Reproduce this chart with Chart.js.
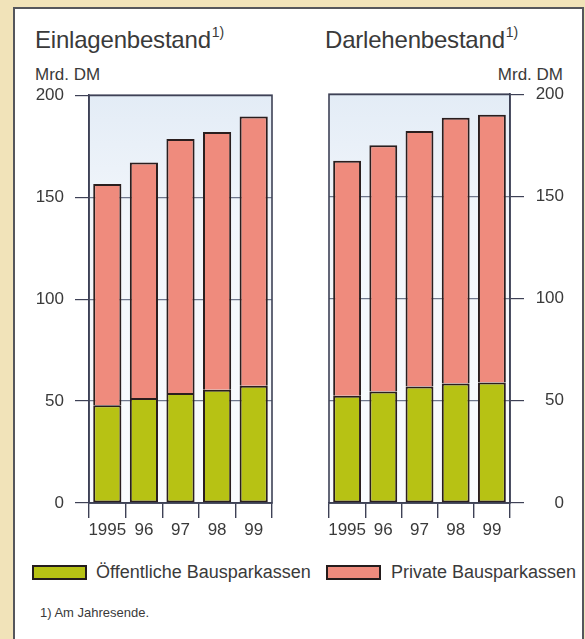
<!DOCTYPE html>
<html lang="de">
<head>
<meta charset="utf-8">
<title>Einlagen- und Darlehenbestand der Bausparkassen</title>
<script src="https://cdn.jsdelivr.net/npm/chart.js@4.4.1/dist/chart.umd.min.js"></script>
<style>
  html, body { margin: 0; padding: 0; }
  body { width: 585px; height: 639px; background: #f1e3b9; position: relative; overflow: hidden;
         font-family: "Liberation Sans", Arial, sans-serif; color: #3a3a3a; }
  #panel { position: absolute; left: 13px; top: 7px; width: 567px; height: 640px;
           background: #ffffff; border: 2px solid #55565c; border-bottom: none; }
  .abs { position: absolute; white-space: nowrap; line-height: 1; }
  .title { font-size: 24px; letter-spacing: -0.2px; }
  .title sup { font-size: 14px; position: relative; top: -3px; vertical-align: top; margin-left: 1px; }
  .unit { font-size: 17px; }
  canvas { position: absolute; }
  .legbox { position: absolute; width: 51px; height: 11px; border: 2px solid #241c1c; }
  .legtext { font-size: 18px; }
  .note { font-size: 13px; }
</style>
</head>
<body>
<div id="panel"></div>

<div class="abs title" style="left:35px; top:28px;">Einlagenbestand<sup>1)</sup></div>
<div class="abs title" style="left:325px; top:28px;">Darlehenbestand<sup>1)</sup></div>
<div class="abs unit" style="left:35px; top:66px;">Mrd. DM</div>
<div class="abs unit" style="right:22px; top:66px;">Mrd. DM</div>

<canvas id="einlagen" width="270" height="471" style="left:20px; top:74px;"></canvas>
<canvas id="darlehen" width="270" height="471" style="left:310px; top:74px;"></canvas>

<div class="legbox" style="left:32px; top:565px; background:#b7c214;"></div>
<div class="abs legtext" style="left:96px; top:563px;">Öffentliche Bausparkassen</div>
<div class="legbox" style="left:326px; top:565px; background:#ef8b7d;"></div>
<div class="abs legtext" style="left:391px; top:563px;">Private Bausparkassen</div>

<div class="abs note" style="left:40px; top:606px;">1) Am Jahresende.</div>

<script>
// Jahre (Jahresende) und Bestände in Mrd. DM
const years = ['1995', '96', '97', '98', '99'];
const yTicks = [0, 50, 100, 150, 200];

// Einlagenbestand
const einlagenOeffentlich = [48, 51.5, 54, 55.5, 57.5];
const einlagenPrivat = [108.5, 115.5, 124.5, 126.5, 132];

// Darlehenbestand
const darlehenOeffentlich = [52.5, 54.5, 57, 58.5, 59];
const darlehenPrivat = [115, 120.5, 125, 130, 131];

const GREEN = '#b7c214';
const PINK = '#ef8b7d';
const EDGE = '#2a1e1e';
const FRAME = '#3e4156';
const GRID = '#6f778c';
const TEXT = '#3a3a3a';

// light blue plot background and dark frame around the plot area
const plotFrame = {
  id: 'plotFrame',
  beforeDraw(chart) {
    const a = chart.chartArea, ctx = chart.ctx;
    const g = ctx.createLinearGradient(0, a.top, 0, a.bottom);
    g.addColorStop(0, '#e3ecf6');
    g.addColorStop(0.3, '#f2f6fb');
    g.addColorStop(1, '#fafcfe');
    ctx.save();
    ctx.fillStyle = g;
    ctx.fillRect(a.left, a.top, a.right - a.left, a.bottom - a.top);
    ctx.restore();
  },
  afterDraw(chart) {
    const a = chart.chartArea, ctx = chart.ctx;
    ctx.save();
    ctx.strokeStyle = FRAME;
    ctx.lineWidth = 1.6;
    ctx.strokeRect(a.left, a.top, a.right - a.left, a.bottom - a.top);
    ctx.restore();
  }
};

function makeChart(id, oeff, priv, side, padding, yWidth, labelPad) {
  return new Chart(document.getElementById(id), {
    type: 'bar',
    data: {
      labels: years,
      datasets: [
        { label: 'Öffentliche Bausparkassen', data: oeff, backgroundColor: GREEN,
          borderColor: EDGE, borderWidth: 2, borderSkipped: false },
        // the upper segment shares its bottom edge with the lower one
        { label: 'Private Bausparkassen', data: priv, backgroundColor: PINK,
          borderColor: EDGE, borderWidth: 2, borderSkipped: 'bottom' }
      ]
    },
    options: {
      responsive: false,
      animation: false,
      layout: { padding: padding },
      datasets: { bar: { barPercentage: 0.77, categoryPercentage: 1 } },
      plugins: { legend: { display: false }, tooltip: { enabled: false }, title: { display: false } },
      scales: {
        x: {
          stacked: true,
          offset: true,
          afterFit: s => { s.height = 42; },
          border: { display: true, color: FRAME, width: 1.6 },
          grid: { offset: true, drawOnChartArea: false, drawTicks: true, tickLength: 15,
                  tickColor: FRAME, lineWidth: 1.4 },
          ticks: { color: TEXT, padding: 2, maxRotation: 0, autoSkip: false,
                   font: { family: 'Liberation Sans', size: 17 } }
        },
        y: {
          stacked: true,
          position: side,
          min: 0,
          max: 200,
          afterFit: s => { s.width = yWidth; },
          afterBuildTicks: s => { s.ticks = yTicks.map(v => ({ value: v })); },
          border: { display: true, color: FRAME, width: 1.6 },
          grid: {
            drawTicks: true,
            tickLength: 14,
            tickColor: FRAME,
            color: c => (c.tick && (c.tick.value === 0 || c.tick.value === 200)) ? FRAME : GRID,
            lineWidth: 1.2
          },
          ticks: { color: TEXT, padding: labelPad, crossAlign: side === 'right' ? 'far' : 'near',
                   font: { family: 'Liberation Sans', size: 17 } }
        }
      }
    },
    plugins: [plotFrame]
  });
}

makeChart('einlagen', einlagenOeffentlich, einlagenPrivat, 'left',
          { top: 0, right: 18, left: 0, bottom: 0 }, 69, 11);
makeChart('darlehen', darlehenOeffentlich, darlehenPrivat, 'right',
          { top: 0, right: 16, left: 19, bottom: 0 }, 54, 10);
</script>
</body>
</html>
